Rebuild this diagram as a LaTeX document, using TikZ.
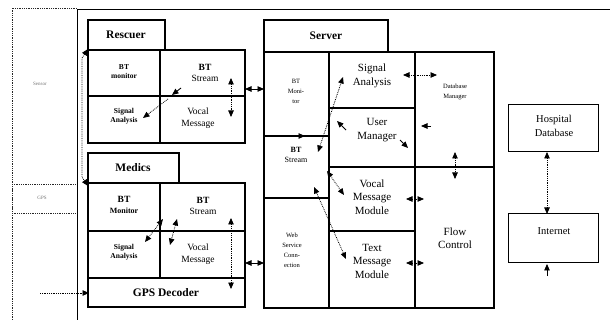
\documentclass[tikz,border=0pt]{standalone}
\usepackage{fontspec}
\setmainfont{Liberation Serif}
\usetikzlibrary{arrows.meta}
\begin{document}
\begin{tikzpicture}[x=1pt,y=-1pt,
  box/.style={draw=black,line width=1.2pt},
  thinbox/.style={draw=black,line width=1pt},
  dbox/.style={draw=black!85,densely dotted,line width=0.8pt},
  title/.style={font=\fontsize{11.5}{12}\selectfont\bfseries,align=center,inner sep=0pt},
  big/.style={font=\fontsize{9.5}{11.5}\selectfont,align=center,inner sep=0pt},
  mid/.style={font=\fontsize{11}{13.5}\selectfont,align=center,inner sep=0pt},
  small/.style={font=\fontsize{7.5}{9}\selectfont\bfseries,align=center,inner sep=0pt},
  tiny/.style={font=\fontsize{6.5}{10}\selectfont,align=center,inner sep=0pt},
  faint/.style={font=\fontsize{5}{6}\selectfont,text=black!55,inner sep=0pt},
  tip/.style={-{Triangle[width=5.5pt,length=6.5pt]}},
  tips/.style={{Triangle[width=5.5pt,length=6.5pt]}-{Triangle[width=5.5pt,length=6.5pt]}},
  dots/.style={densely dotted,line width=0.8pt},
  link/.style={line width=0.9pt}]
\useasboundingbox (0,0) rectangle (610,320);
% left strip
\draw[dbox] (12,320) -- (12,8) -- (77,8);
\draw[dbox] (12,184) rectangle (77,213);
\node[faint] (sens) at (40,84) {Sensor};
\node[faint] (gpsl) at (42,198) {GPS};
% outer frame
\draw[line width=1pt] (77,320) -- (77,10) -- (610,10);
% Rescuer
\draw[box] (88,20) rectangle (165,50);
\draw[box] (88,50) rectangle (160,96);
\draw[box] (88,96) rectangle (160,143);
\draw[box] (160,50) rectangle (245,96);
\draw[box] (160,96) rectangle (245,143);
\node[title] (resc) at (126,35) {Rescuer};
\node[small] (rbtm) at (124,72) {BT\\ monitor};
\node[small] (rsa) at (124,116) {Signal\\ Analysis};
\node[big] (rbts) at (205,73) {\textbf{BT}\\ Stream};
\node[big] (rvm) at (198,118) {Vocal\\ Message};
% Medics
\draw[box] (88,153) rectangle (179,183);
\draw[box] (88,183) rectangle (160,231);
\draw[box] (88,231) rectangle (160,278);
\draw[box] (160,183) rectangle (245,231);
\draw[box] (160,231) rectangle (245,278);
\draw[box] (88,278) rectangle (245,307);
\node[title] (med) at (133,168) {Medics};
\node[big] (mbtm) at (124,205) {\textbf{BT}\\ \fontsize{8}{9}\selectfont\bfseries Monitor};
\node[small] (msa) at (124,252) {Signal\\ Analysis};
\node[big] (mbts) at (203,206) {\textbf{BT}\\ Stream};
\node[big] (mvm) at (198,254) {Vocal\\ Message};
\node[font=\fontsize{11.5}{12}\selectfont\bfseries,inner sep=0pt] (gpsd) at (166,293) {GPS Decoder};
% Server
\draw[box] (264,20) rectangle (388,52);
\draw[box] (264,52) rectangle (329,136);
\draw[box] (264,136) rectangle (329,198);
\draw[box] (264,198) rectangle (329,308);
\draw[box] (329,52) rectangle (415,108);
\draw[box] (329,108) rectangle (415,167);
\draw[box] (329,167) rectangle (415,231);
\draw[box] (329,231) rectangle (415,308);
\draw[box] (415,52) rectangle (494,167);
\draw[box] (415,167) rectangle (494,308);
\node[title] (serv) at (326,36) {Server};
\node[tiny] (sbtm) at (296,91) {BT\\ Moni-\\ tor};
\node[tiny] (sbts) at (296,155) {\fontsize{8}{10}\selectfont\bfseries BT\\ \fontsize{8}{10}\selectfont Stream};
\node[tiny] (wsc) at (292,250) {Web\\ Service\\ Conn-\\ ection};
\node[mid] (ssa) at (372,76) {Signal\\ Analysis};
\node[mid] (um) at (377,130) {User\\ Manager};
\node[tiny] (dbm) at (455,92) {Database\\ Manager};
\node[mid] (vmm) at (372,197) {Vocal\\ Message\\ Module};
\node[mid] (tmm) at (372,261) {Text\\ Message\\ Module};
\node[mid] (fc) at (455,238) {Flow\\ Control};
% right
\draw[thinbox] (508,105) rectangle (598,152);
\draw[thinbox] (508,214) rectangle (598,263);
\node[font=\fontsize{10.5}{14}\selectfont,align=center,inner sep=0pt] (hdb) at (554,126) {Hospital\\ Database};
\node[font=\fontsize{10.5}{13}\selectfont,inner sep=0pt] (inet) at (554,231) {Internet};
% connectors
\coordinate (a1) at (88,49); \coordinate (a2) at (88,186);
\draw[dots,tips] (a1) -- (82,58) -- (82,177) -- (a2);
\draw[link,tip] (181,88) -- (172,95);
\draw[dots,tip] (168,99) -- (143,118);
\draw[dots,tips] (231,78) -- (231,117);
\draw[link,tips] (245,89) -- (264,89);
\draw[link,tip] (292,136) -- (305,136);
\draw[dots,tips] (318,152) -- (343,77);
\draw[link,tip] (346,130) -- (337,121);
\draw[link,tip] (400,140) -- (408,148);
\draw[link,tip] (431,126) -- (421,126);
\draw[dots,tips] (403,75) -- (437,75);
\draw[dots,tips] (455,152) -- (455,179);
\draw[dots,tips] (547,152) -- (547,214);
\draw[link,tip] (547,276) -- (547,264);
\draw[dots,tips] (406,199) -- (424,199);
\draw[dots,tips] (406,263) -- (424,263);
\draw[dots,tips] (327,171) -- (344,195);
\draw[dots,tips] (314,187) -- (346,259);
\draw[dots,tips] (163,219) -- (145,242);
\draw[dots,tips] (177,219) -- (170,245);
\draw[dots,tips] (231,218) -- (231,289);
\draw[link,tips] (245,263) -- (264,263);
\draw[dots,tip] (40,293) -- (89,293);
\end{tikzpicture}
\end{document}
